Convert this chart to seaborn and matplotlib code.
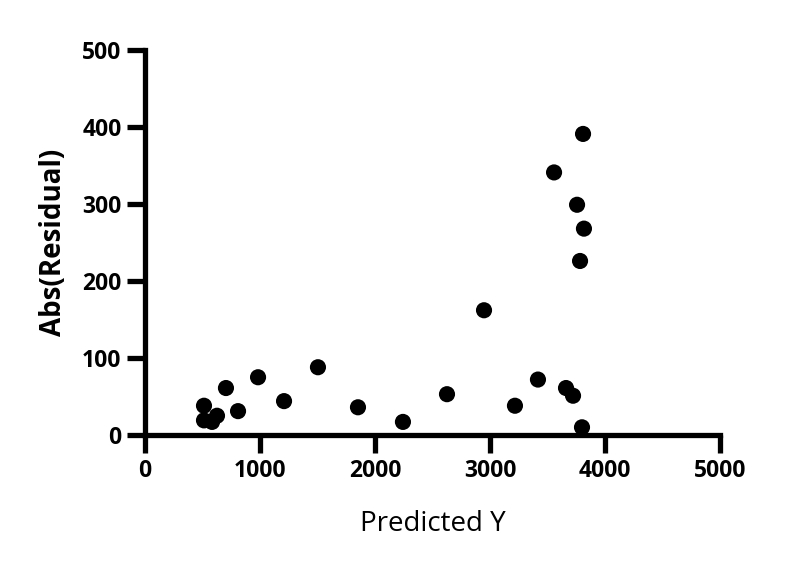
import pandas as pd
import seaborn as sns
import matplotlib.pyplot as plt

# values
predicted_y = [513, 513, 583, 626, 704, 809, 983, 1209, 1504, 1852, 2243, 2626,
               2948, 3217, 3417, 3557, 3661, 3722, 3757, 3783, 3800, 3809, 3817]
abs_residual = [19, 38, 17, 25, 61, 31, 75, 44, 88, 36, 17, 53,
                162, 38, 72, 341, 61, 51, 299, 226, 10, 391, 268]

df = pd.DataFrame({"Predicted Y": predicted_y, "Abs(Residual)": abs_residual})

sns.set_style("ticks")
plt.rcParams["font.family"] = ["Open Sans", "DejaVu Sans"]
plt.rcParams["font.weight"] = "bold"
plt.rcParams["text.color"] = "black"
plt.rcParams["axes.labelcolor"] = "black"
plt.rcParams["xtick.color"] = "black"
plt.rcParams["ytick.color"] = "black"
plt.rcParams["axes.edgecolor"] = "black"

fig = plt.figure(figsize=(8.02, 5.70), dpi=100)
ax = fig.add_axes([145 / 802, 1 - 435 / 570, 575 / 802, 385 / 570])

sns.scatterplot(data=df, x="Predicted Y", y="Abs(Residual)", ax=ax,
                color="black", s=135, edgecolor="none", clip_on=False, zorder=3)

ax.set_xlim(0, 5000)
ax.set_ylim(0, 500)
ax.set_xticks(range(0, 5001, 1000))
ax.set_yticks(range(0, 501, 100))

for side in ["top", "right"]:
    ax.spines[side].set_visible(False)
for side in ["left", "bottom"]:
    ax.spines[side].set_linewidth(3.8)
    ax.spines[side].set_capstyle("projecting")

ax.tick_params(axis="both", length=13, width=3.8, labelsize=16.5, pad=4)

ax.set_xlabel("Predicted Y", fontsize=20, fontweight="normal", labelpad=20)
ax.set_ylabel("Abs(Residual)", fontsize=20, fontweight="bold", labelpad=10)

fig.savefig("out.png", dpi=100)
